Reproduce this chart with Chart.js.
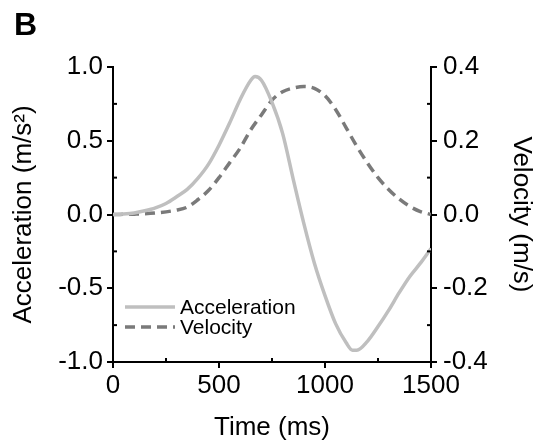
<!DOCTYPE html>
<html>
<head>
<meta charset="utf-8">
<script src="https://cdn.jsdelivr.net/npm/chart.js@4.4.1/dist/chart.umd.min.js"></script>
<style>
  body { margin: 0; background: #fff; }
  #wrap { width: 538px; height: 445px; }
</style>
</head>
<body>
<div id="wrap"><canvas id="motion" width="538" height="445"></canvas></div>
<script>
    // values
    const accTime = [0, 50, 100, 150, 200, 250, 300, 350, 400, 450, 500, 550, 600, 650, 670, 700,
      750, 800, 850, 900, 950, 1000, 1050, 1100, 1130, 1150, 1200, 1250, 1300, 1350, 1400, 1450, 1500];
    const acceleration = [0, 0.003, 0.01, 0.025, 0.045, 0.075, 0.12, 0.17, 0.245, 0.34, 0.47, 0.62, 0.78, 0.91, 0.935, 0.91,
      0.76, 0.55, 0.24, -0.06, -0.33, -0.55, -0.74, -0.87, -0.92, -0.92, -0.86, -0.76, -0.65, -0.53, -0.42, -0.33, -0.23];

    const velTime = [0, 100, 200, 300, 350, 400, 450, 500, 550, 600, 650, 700, 750, 800, 850, 900,
      950, 1000, 1050, 1100, 1150, 1200, 1250, 1300, 1350, 1400, 1450, 1500];
    const velocity = [0, 0.001, 0.004, 0.012, 0.02, 0.04, 0.065, 0.1, 0.14, 0.18, 0.23, 0.27, 0.31, 0.333, 0.343, 0.347,
      0.342, 0.322, 0.285, 0.235, 0.185, 0.14, 0.1, 0.068, 0.042, 0.022, 0.008, 0];

    const timeTicks = [0, 500, 1000, 1500];
    const accTicks = [-1.0, -0.5, 0.0, 0.5, 1.0];
    const velTicks = [-0.4, -0.2, 0.0, 0.2, 0.4];

    Chart.defaults.font.family = "'Liberation Sans', Arial, sans-serif";
    Chart.defaults.color = '#000';

    // small inward ticks halfway between the labelled ones
    const minorTicks = {
      id: 'minorTicks',
      afterDraw(chart) {
        const { ctx, chartArea } = chart;
        ctx.save();
        ctx.strokeStyle = '#000';
        ctx.lineWidth = 2;
        const len = 4;
        const x = chart.scales.x, y = chart.scales.y, y1 = chart.scales.y1;
        for (let i = 0; i < timeTicks.length - 1; i++) {
          const px = x.getPixelForValue((timeTicks[i] + timeTicks[i + 1]) / 2);
          ctx.beginPath();
          ctx.moveTo(px, chartArea.bottom);
          ctx.lineTo(px, chartArea.bottom - len);
          ctx.stroke();
        }
        for (let i = 0; i < accTicks.length - 1; i++) {
          const py = y.getPixelForValue((accTicks[i] + accTicks[i + 1]) / 2);
          ctx.beginPath();
          ctx.moveTo(chartArea.left, py);
          ctx.lineTo(chartArea.left + len, py);
          ctx.stroke();
        }
        for (let i = 0; i < velTicks.length - 1; i++) {
          const py = y1.getPixelForValue((velTicks[i] + velTicks[i + 1]) / 2);
          ctx.beginPath();
          ctx.moveTo(chartArea.right, py);
          ctx.lineTo(chartArea.right - len, py);
          ctx.stroke();
        }
        ctx.restore();
      }
    };

    // legend sitting inside the plot, bottom left
    const insideLegend = {
      id: 'insideLegend',
      afterDatasetsDraw(chart) {
        const { ctx, chartArea } = chart;
        ctx.save();
        ctx.font = "21px 'Liberation Sans', Arial, sans-serif";
        ctx.textBaseline = 'middle';
        chart.data.datasets.forEach((ds, i) => {
          const y = chartArea.bottom - 55 + i * 20;
          const x0 = chartArea.left + 12;
          ctx.strokeStyle = ds.borderColor;
          ctx.lineWidth = ds.borderWidth;
          ctx.setLineDash(ds.borderDash || []);
          ctx.beginPath();
          ctx.moveTo(x0, y);
          ctx.lineTo(x0 + 50, y);
          ctx.stroke();
          ctx.setLineDash([]);
          ctx.fillStyle = '#000';
          ctx.fillText(ds.label, x0 + 55, y + 1);
        });
        ctx.restore();
      }
    };

    const panelLetter = {
      id: 'panelLetter',
      afterDraw(chart) {
        const ctx = chart.ctx;
        ctx.save();
        ctx.font = "bold 32px 'Liberation Sans', Arial, sans-serif";
        ctx.fillStyle = '#000';
        ctx.textBaseline = 'alphabetic';
        ctx.fillText('B', 14, 35);
        ctx.restore();
      }
    };

    const axisGrid = {
      display: true,
      drawOnChartArea: false,
      drawTicks: true,
      tickLength: 6,
      color: '#000',
      lineWidth: 2
    };
    const axisBorder = { display: true, color: '#000', width: 2 };

    new Chart(document.getElementById('motion'), {
      type: 'line',
      data: {
        datasets: [
          {
            label: 'Acceleration',
            data: accTime.map((t, i) => ({ x: t, y: acceleration[i] })),
            yAxisID: 'y',
            borderColor: '#bfbfbf',
            borderWidth: 3.5,
            pointRadius: 0,
            cubicInterpolationMode: 'monotone'
          },
          {
            label: 'Velocity',
            data: velTime.map((t, i) => ({ x: t, y: velocity[i] })),
            yAxisID: 'y1',
            borderColor: '#7a7a7a',
            borderWidth: 3.5,
            borderDash: [10, 6],
            pointRadius: 0,
            cubicInterpolationMode: 'monotone'
          }
        ]
      },
      options: {
        responsive: false,
        animation: false,
        layout: { padding: { top: 67, left: 0, right: 0, bottom: 0 } },
        plugins: {
          legend: { display: false },
          tooltip: { enabled: false }
        },
        scales: {
          x: {
            type: 'linear',
            min: 0,
            max: 1500,
            afterBuildTicks: (s) => { s.ticks = timeTicks.map(v => ({ value: v })); },
            afterFit: (s) => { s.height = 83; },
            ticks: { font: { size: 26 }, padding: 2, maxRotation: 0, callback: (v) => String(v) },
            grid: axisGrid,
            border: axisBorder,
            title: { display: true, text: 'Time (ms)', font: { size: 26 }, padding: { top: 0, bottom: 2 } }
          },
          y: {
            position: 'left',
            min: -1,
            max: 1,
            afterBuildTicks: (s) => { s.ticks = accTicks.map(v => ({ value: v })); },
            afterFit: (s) => { s.width = 113; },
            ticks: { font: { size: 26 }, padding: 4, callback: (v) => v.toFixed(1) },
            grid: axisGrid,
            border: axisBorder,
            title: { display: true, text: 'Acceleration (m/s²)', font: { size: 26 }, padding: { top: 8, bottom: 0 } }
          },
          y1: {
            position: 'right',
            min: -0.4,
            max: 0.4,
            afterBuildTicks: (s) => { s.ticks = velTicks.map(v => ({ value: v })); },
            afterFit: (s) => { s.width = 107; },
            ticks: { font: { size: 26 }, padding: 6, callback: (v) => v.toFixed(1) },
            grid: axisGrid,
            border: axisBorder,
            title: { display: true, text: 'Velocity (m/s)', font: { size: 26 }, padding: { top: 1, bottom: 0 } }
          }
        }
      },
      plugins: [minorTicks, insideLegend, panelLetter]
    });
</script>
</body>
</html>
